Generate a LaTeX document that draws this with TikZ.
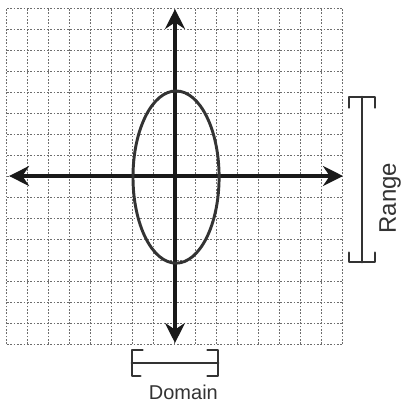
\documentclass[tikz,border=0pt]{standalone}
\usepackage{fontspec}
\setmainfont{Liberation Sans}
\usetikzlibrary{arrows.meta,shapes.geometric}
\definecolor{gridgray}{HTML}{6E6E6E}
\definecolor{pencil}{HTML}{333333}
\tikzset{
  gridline/.style={gridgray, line width=0.75pt, dash pattern=on 1.2pt off 1.3pt},
  axisline/.style={black!90, line width=2.8pt, -{Stealth[length=15pt,width=15pt,inset=5pt]}},
  curve/.style={pencil, line width=2.2pt},
  bracketline/.style={pencil, line width=2pt, line cap=round, line join=round},
  hand/.style={pencil, inner sep=0pt}
}
\begin{document}
\begin{tikzpicture}[x=15.75pt,y=15.75pt]
\useasboundingbox (-8.333,-10.857) rectangle (11.143,8.381);
% grid
\foreach \i in {-8,...,8} {
  \draw[gridline] (\i,-8) -- (\i,8);
  \draw[gridline] (-8,\i) -- (8,\i);
}
% axes
\coordinate (xl) at (-7.9,0);
\coordinate (xr) at (8,0);
\coordinate (yt) at (0,7.95);
\coordinate (yb) at (0,-7.95);
\coordinate (o) at (0,0);
\draw[axisline] (o) -- (xr);
\draw[axisline] (o) -- (xl);
\draw[axisline] (o) -- (yt);
\draw[axisline] (o) -- (yb);
% ellipse
\node[curve, draw, ellipse, minimum width=4.1*15.75pt, minimum height=8.2*15.75pt, inner sep=0pt] (ell) at (0.05,-0.05) {};
% domain bracket
\coordinate (dl) at (-2.05,-8.9);
\coordinate (dr) at (2.05,-8.9);
\draw[bracketline] ([xshift=0.5*15.75pt,yshift=0.62*15.75pt]dl) -- ([yshift=0.62*15.75pt]dl) -- ([yshift=-0.62*15.75pt]dl) -- ([xshift=0.4*15.75pt,yshift=-0.62*15.75pt]dl);
\draw[bracketline] ([xshift=-0.5*15.75pt,yshift=0.62*15.75pt]dr) -- ([yshift=0.62*15.75pt]dr) -- ([yshift=-0.62*15.75pt]dr) -- ([xshift=-0.5*15.75pt,yshift=-0.62*15.75pt]dr);
\draw[bracketline] (dl) -- (dr);
\node[hand, font=\fontsize{15}{15}\selectfont] (domain) at (0.4,-10.3) {Domain};
% range bracket
\coordinate (rt) at (8.9,3.76);
\coordinate (rb) at (8.9,-4.1);
\draw[bracketline] ([xshift=-0.62*15.75pt,yshift=-0.5*15.75pt]rt) -- ([xshift=-0.62*15.75pt]rt) -- ([xshift=0.62*15.75pt]rt) -- ([xshift=0.62*15.75pt,yshift=-0.5*15.75pt]rt);
\draw[bracketline] ([xshift=-0.62*15.75pt,yshift=0.45*15.75pt]rb) -- ([xshift=-0.62*15.75pt]rb) -- ([xshift=0.62*15.75pt]rb) -- ([xshift=0.62*15.75pt,yshift=0.45*15.75pt]rb);
\draw[bracketline] (rt) -- (rb);
\node[hand, rotate=90, font=\fontsize{18}{18}\selectfont] (range) at (10.24,-1.05) {Range};
\end{tikzpicture}
\end{document}
